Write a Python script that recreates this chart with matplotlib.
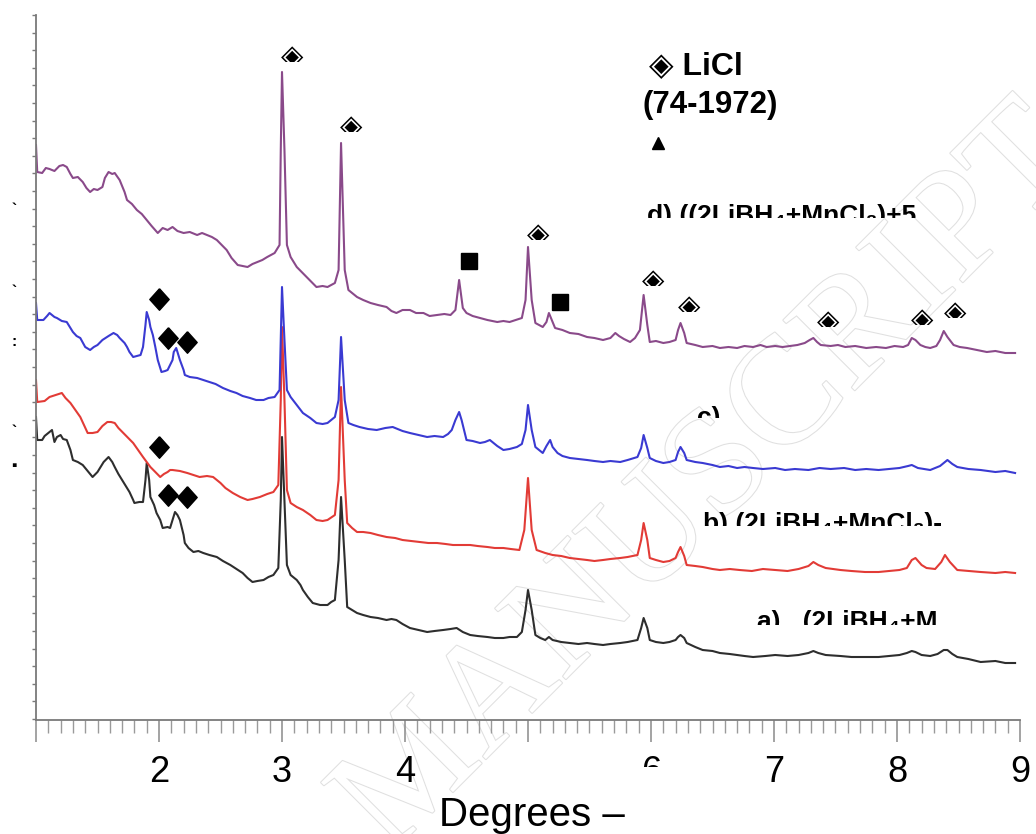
import numpy as np
import matplotlib
matplotlib.use('Agg')
import matplotlib.pyplot as plt
import matplotlib.patheffects as pe
from matplotlib.path import Path
from matplotlib.transforms import Bbox, TransformedBbox

# XRD patterns (2-theta in the odd axis units, intensity in a.u.)
d_x = [1.0, 1.01, 1.05, 1.08, 1.11, 1.15, 1.19, 1.22, 1.25, 1.28, 1.30, 1.34, 1.38, 1.41, 1.44, 1.47, 1.50, 1.54, 1.56, 1.59,
       1.62, 1.64, 1.68, 1.72, 1.74, 1.78, 1.82, 1.86, 1.90, 1.94, 1.99, 2.03, 2.07, 2.11, 2.15, 2.20, 2.25, 2.31, 2.35, 2.39,
       2.43, 2.47, 2.51, 2.55, 2.59, 2.64, 2.68, 2.72, 2.76, 2.80, 2.84, 2.88, 2.91, 2.94, 2.98, 2.99, 3.00, 3.02, 3.04, 3.07,
       3.10, 3.12, 3.16, 3.20, 3.24, 3.28, 3.33, 3.37, 3.40, 3.43, 3.46, 3.48, 3.51, 3.54, 3.57, 3.61, 3.66, 3.72, 3.78, 3.85,
       3.89, 3.93, 3.98, 4.04, 4.09, 4.15, 4.20, 4.26, 4.32, 4.37, 4.41, 4.44, 4.47, 4.50, 4.55, 4.61, 4.67, 4.75, 4.80, 4.85,
       4.90, 4.95, 4.98, 5.00, 5.03, 5.06, 5.09, 5.12, 5.15, 5.17, 5.20, 5.22, 5.28, 5.34, 5.41, 5.48, 5.54, 5.61, 5.67, 5.71,
       5.74, 5.78, 5.83, 5.87, 5.91, 5.94, 5.97, 5.99, 6.04, 6.10, 6.15, 6.20, 6.22, 6.24, 6.27, 6.29, 6.36, 6.42, 6.50, 6.56,
       6.63, 6.70, 6.76, 6.83, 6.89, 6.94, 7.01, 7.07, 7.13, 7.19, 7.25, 7.29, 7.32, 7.35, 7.38, 7.46, 7.52, 7.58, 7.66, 7.75,
       7.83, 7.91, 7.98, 8.05, 8.09, 8.12, 8.15, 8.19, 8.23, 8.27, 8.32, 8.35, 8.38, 8.41, 8.46, 8.51, 8.57, 8.65, 8.73, 8.80,
       8.88, 8.96]
d_y = [575, 548, 547, 552, 551, 549, 554, 555, 553, 546, 542, 543, 538, 532, 528, 531, 530, 533, 542, 548,
       546, 547, 540, 528, 520, 516, 510, 506, 500, 494, 487, 492, 490, 493, 489, 487, 488, 485, 487, 485,
       483, 480, 475, 470, 462, 455, 454, 453, 456, 458, 460, 463, 465, 467, 475, 570, 648, 570, 475, 463,
       457, 453, 448, 443, 438, 433, 434, 433, 435, 437, 450, 577, 450, 430, 427, 423, 420, 417, 415, 413,
       409, 407, 410, 410, 407, 407, 404, 405, 406, 405, 410, 440, 412, 407, 404, 402, 400, 398, 399, 398,
       400, 402, 420, 473, 420, 397, 395, 393, 398, 407, 398, 392, 390, 387, 386, 383, 382, 380, 382, 387,
       384, 381, 378, 382, 390, 425, 395, 378, 379, 377, 378, 380, 390, 397, 387, 377, 375, 373, 374, 372,
       373, 372, 374, 373, 375, 373, 374, 373, 374, 375, 377, 380, 382, 378, 375, 374, 375, 373, 374, 372,
       373, 372, 374, 373, 375, 382, 380, 375, 373, 372, 374, 380, 389, 383, 375, 373, 372, 370, 368, 369,
       367, 367]

c_x = [1.0, 1.01, 1.06, 1.09, 1.11, 1.15, 1.17, 1.21, 1.25, 1.28, 1.30, 1.33, 1.36, 1.40, 1.44, 1.47, 1.50, 1.54, 1.59, 1.63,
       1.66, 1.68, 1.72, 1.74, 1.76, 1.79, 1.82, 1.85, 1.87, 1.89, 1.90, 1.92, 1.93, 1.95, 1.97, 1.99, 2.02, 2.05, 2.07, 2.09,
       2.11, 2.12, 2.14, 2.15, 2.17, 2.20, 2.21, 2.25, 2.31, 2.36, 2.41, 2.46, 2.52, 2.58, 2.63, 2.68, 2.74, 2.79, 2.85, 2.89,
       2.94, 2.98, 2.99, 3.00, 3.02, 3.04, 3.07, 3.12, 3.17, 3.23, 3.28, 3.33, 3.37, 3.40, 3.43, 3.46, 3.48, 3.51, 3.54, 3.58,
       3.63, 3.70, 3.77, 3.84, 3.90, 3.98, 4.04, 4.11, 4.18, 4.24, 4.31, 4.35, 4.38, 4.41, 4.44, 4.46, 4.50, 4.55, 4.61, 4.65,
       4.69, 4.75, 4.80, 4.85, 4.91, 4.95, 4.98, 5.00, 5.03, 5.06, 5.09, 5.12, 5.15, 5.18, 5.20, 5.24, 5.28, 5.34, 5.41, 5.48,
       5.54, 5.61, 5.67, 5.75, 5.81, 5.89, 5.92, 5.94, 5.97, 5.99, 6.04, 6.10, 6.15, 6.20, 6.22, 6.24, 6.27, 6.29, 6.36, 6.42,
       6.50, 6.56, 6.63, 6.70, 6.76, 6.83, 6.91, 7.01, 7.09, 7.17, 7.28, 7.37, 7.46, 7.57, 7.66, 7.75, 7.85, 7.94, 8.02, 8.09,
       8.12, 8.17, 8.27, 8.35, 8.41, 8.45, 8.49, 8.58, 8.68, 8.80, 8.88, 8.96]
c_y = [417, 400, 400, 404, 407, 403, 402, 399, 398, 392, 388, 384, 382, 373, 370, 373, 375, 380, 384, 387,
       385, 382, 377, 373, 368, 363, 364, 365, 373, 395, 408, 400, 393, 385, 373, 360, 348, 349, 350, 355,
       360, 368, 372, 368, 360, 350, 345, 343, 342, 340, 338, 336, 332, 329, 327, 324, 322, 320, 320, 322,
       323, 330, 380, 433, 380, 330, 323, 315, 307, 302, 297, 296, 297, 300, 303, 320, 383, 320, 297, 295,
       293, 291, 290, 292, 293, 289, 287, 285, 283, 284, 283, 286, 290, 300, 308, 300, 280, 279, 277, 278,
       280, 274, 270, 271, 273, 276, 290, 315, 290, 273, 270, 267, 274, 280, 273, 267, 264, 262, 261, 260,
       259, 258, 259, 258, 260, 263, 272, 285, 272, 262, 259, 257, 258, 260, 268, 273, 267, 260, 258, 257,
       255, 253, 254, 252, 253, 252, 251, 252, 250, 251, 250, 252, 251, 252, 250, 251, 250, 251, 252, 254,
       255, 252, 250, 254, 260, 256, 253, 251, 250, 248, 249, 247]

b_x = [1.0, 1.01, 1.07, 1.11, 1.16, 1.21, 1.24, 1.28, 1.32, 1.36, 1.39, 1.42, 1.46, 1.50, 1.54, 1.58, 1.61, 1.64, 1.67, 1.71,
       1.75, 1.79, 1.83, 1.87, 1.90, 1.93, 1.97, 2.01, 2.04, 2.07, 2.09, 2.11, 2.17, 2.23, 2.28, 2.33, 2.39, 2.44, 2.47, 2.50,
       2.54, 2.60, 2.66, 2.72, 2.76, 2.82, 2.88, 2.93, 2.97, 2.99, 3.00, 3.02, 3.04, 3.07, 3.12, 3.17, 3.23, 3.28, 3.33, 3.37,
       3.43, 3.46, 3.48, 3.51, 3.53, 3.57, 3.61, 3.66, 3.72, 3.78, 3.85, 3.92, 3.98, 4.05, 4.12, 4.19, 4.26, 4.33, 4.39, 4.46,
       4.53, 4.59, 4.67, 4.73, 4.80, 4.86, 4.93, 4.97, 5.00, 5.03, 5.07, 5.14, 5.20, 5.27, 5.34, 5.41, 5.48, 5.54, 5.61, 5.67,
       5.75, 5.81, 5.89, 5.92, 5.94, 5.97, 5.99, 6.04, 6.10, 6.15, 6.20, 6.22, 6.24, 6.27, 6.29, 6.36, 6.42, 6.50, 6.56, 6.64,
       6.72, 6.82, 6.91, 7.01, 7.11, 7.20, 7.28, 7.32, 7.36, 7.42, 7.54, 7.63, 7.74, 7.85, 7.94, 8.02, 8.08, 8.12, 8.15, 8.20,
       8.24, 8.31, 8.36, 8.39, 8.43, 8.49, 8.58, 8.68, 8.80, 8.88, 8.96]
b_y = [340, 318, 319, 323, 325, 327, 322, 317, 310, 303, 295, 287, 287, 288, 294, 298, 298, 297, 292, 287,
       282, 277, 270, 263, 258, 253, 248, 243, 246, 248, 250, 250, 249, 247, 245, 243, 244, 243, 240, 237,
       232, 227, 223, 220, 221, 223, 226, 228, 235, 320, 393, 320, 230, 217, 213, 210, 205, 200, 199, 200,
       205, 240, 333, 240, 197, 192, 188, 188, 187, 185, 183, 182, 180, 179, 178, 177, 177, 176, 175, 175,
       175, 174, 173, 172, 172, 171, 170, 190, 242, 190, 170, 167, 165, 164, 162, 161, 160, 159, 160, 161,
       162, 163, 165, 180, 197, 180, 162, 160, 158, 159, 162, 168, 173, 164, 155, 154, 153, 151, 150, 151,
       150, 149, 151, 150, 149, 151, 154, 158, 155, 152, 150, 149, 148, 148, 149, 150, 152, 160, 162, 155,
       152, 151, 158, 165, 158, 150, 149, 148, 147, 148, 147]

a_x = [1.0, 1.01, 1.05, 1.07, 1.10, 1.13, 1.15, 1.17, 1.20, 1.22, 1.25, 1.28, 1.30, 1.34, 1.38, 1.42, 1.46, 1.50, 1.52, 1.55,
       1.59, 1.62, 1.64, 1.67, 1.70, 1.73, 1.76, 1.79, 1.80, 1.84, 1.87, 1.89, 1.90, 1.92, 1.93, 1.96, 1.98, 2.01, 2.03, 2.07,
       2.09, 2.11, 2.13, 2.15, 2.17, 2.20, 2.21, 2.24, 2.28, 2.32, 2.36, 2.41, 2.47, 2.52, 2.58, 2.63, 2.68, 2.72, 2.76, 2.80,
       2.85, 2.89, 2.93, 2.97, 2.99, 3.00, 3.02, 3.04, 3.07, 3.12, 3.15, 3.17, 3.21, 3.25, 3.31, 3.37, 3.40, 3.43, 3.46, 3.48,
       3.51, 3.53, 3.57, 3.61, 3.66, 3.72, 3.78, 3.85, 3.89, 3.93, 3.98, 4.04, 4.11, 4.18, 4.24, 4.31, 4.37, 4.42, 4.47, 4.53,
       4.59, 4.67, 4.73, 4.80, 4.85, 4.91, 4.95, 4.98, 5.00, 5.03, 5.06, 5.10, 5.14, 5.17, 5.20, 5.27, 5.34, 5.41, 5.48, 5.54,
       5.61, 5.67, 5.75, 5.81, 5.89, 5.92, 5.94, 5.97, 5.99, 6.04, 6.10, 6.15, 6.20, 6.22, 6.24, 6.27, 6.29, 6.36, 6.42, 6.50,
       6.56, 6.64, 6.70, 6.76, 6.83, 6.93, 7.01, 7.11, 7.20, 7.28, 7.32, 7.36, 7.42, 7.54, 7.63, 7.74, 7.85, 7.94, 8.02, 8.08,
       8.12, 8.15, 8.20, 8.27, 8.33, 8.38, 8.41, 8.45, 8.49, 8.58, 8.68, 8.80, 8.88, 8.96]
a_y = [303, 280, 280, 284, 287, 290, 278, 283, 285, 281, 280, 270, 260, 258, 255, 249, 243, 248, 252, 258,
       263, 258, 253, 246, 240, 234, 228, 220, 217, 218, 218, 240, 257, 240, 223, 215, 207, 200, 192, 193,
       192, 200, 208, 205, 200, 185, 177, 172, 168, 169, 167, 165, 163, 159, 155, 151, 147, 142, 138, 139,
       140, 143, 145, 152, 220, 283, 220, 155, 145, 140, 135, 130, 123, 117, 115, 115, 118, 120, 160, 223,
       160, 113, 110, 107, 105, 103, 102, 100, 101, 100, 96, 92, 90, 88, 89, 90, 91, 92, 88, 85,
       84, 83, 82, 82, 83, 83, 88, 110, 130, 110, 85, 82, 80, 83, 80, 78, 77, 76, 77, 76,
       75, 76, 77, 78, 80, 92, 102, 92, 80, 78, 77, 78, 80, 83, 85, 82, 77, 73, 70, 69,
       67, 66, 65, 64, 63, 64, 65, 64, 65, 67, 69, 67, 65, 64, 63, 63, 63, 64, 65, 67,
       69, 68, 65, 64, 66, 70, 70, 66, 63, 61, 58, 59, 57, 57]

# phase markers
licl_x = [3.08, 3.56, 5.08, 6.02, 6.31, 7.44, 8.20, 8.47]
licl_y = [663, 593, 485, 439, 413, 398, 400, 407]
square_x = [4.52, 5.26]
square_y = [459, 418]
diam_x = [2.0, 2.07, 2.23, 2.0, 2.07, 2.23]
diam_y = [421, 382, 378, 273, 225, 223]

tick_pos = [1, 2, 3, 4, 5, 6, 7, 8, 9]
tick_txt = ['', '2', '3', '4', '', '6', '7', '8', '9']


def clipText(ax, x, y, s, cut, **kw):
    # the scan cut the lower part of these labels
    t = ax.text(x, y, s, **kw)
    t.set_clip_box(TransformedBbox(Bbox.from_extents(0, cut, 20, 2000), ax.transData))
    t.set_clip_on(True)
    return t


plt.rcParams['font.family'] = ['Liberation Sans', 'DejaVu Sans']
W, H = 1036, 834
fig = plt.figure(figsize=(W / 100, H / 100), dpi=100)
ax = fig.add_axes([36 / W, (H - 720) / H, 984 / W, 705 / H])
ax.set_facecolor('none')

# watermark
fig.text(1085 / W, 1 - 160 / H, 'ACCEPTED MANUSCRIPT', rotation=45, rotation_mode='anchor',
         ha='right', va='baseline', fontsize=110, family='Liberation Serif', color='white', zorder=-5,
         path_effects=[pe.withStroke(linewidth=1.5, foreground='#e0e0e0')])

ax.plot(a_x, a_y, color='#2e2e2e', lw=1.5)
ax.plot(b_x, b_y, color='#e23b36', lw=1.5)
ax.plot(c_x, c_y, color='#3a3ad2', lw=1.5)
ax.plot(d_x, d_y, color='#8a4a8a', lw=1.5)

ax.plot(square_x, square_y, 's', color='black', ms=11.5, ls='none')
diamond = Path([(0, 1), (0.9, 0), (0, -1), (-0.9, 0), (0, 1)])
ax.plot(diam_x, diam_y, marker=diamond, color='black', ms=15.5, ls='none')
for x, y in zip(licl_x, licl_y):
    clipText(ax, x, y, '\u25c8', y - 5, ha='center', va='center', fontsize=21, family='DejaVu Sans',
             fontweight='bold')

bold = dict(fontweight='bold', color='black')
ax.text(5.98, 654, '\u25c8 LiCl', va='center', fontsize=23, **bold)
ax.text(5.93, 615, '(74-1972)', va='center', fontsize=22.5, **bold)
ax.plot([6.06], [577], '^', color='black', ms=8)
clipText(ax, 5.97, 497, 'd) ((2LiBH\u2084+MnCl\u2082)+5', 502, va='baseline', fontsize=19, **bold)
clipText(ax, 6.37, 295, 'c)', 302, va='baseline', fontsize=19, **bold)
clipText(ax, 6.42, 189, 'b) (2LiBH\u2084+MnCl\u2082)-', 194, va='baseline', fontsize=19, **bold)
clipText(ax, 6.86, 91, 'a)   (2LiBH\u2084+M', 95, va='baseline', fontsize=19, **bold)

ax.set_xlim(1, 9)
ax.set_ylim(0, 705)
for s in ['top', 'right']:
    ax.spines[s].set_visible(False)
for s in ['left', 'bottom']:
    ax.spines[s].set_color('#7a7a7a')
    ax.spines[s].set_linewidth(1.3)

ax.set_xticks(tick_pos)
ax.set_xticklabels(tick_txt, fontsize=26)
ax.set_xticks(np.arange(1, 9.001, 0.1), minor=True)
ax.tick_params(axis='x', which='major', length=16, width=1.1, color='#8a8a8a', pad=9)
ax.tick_params(axis='x', which='minor', length=9, width=1.0, color='#9a9a9a')
ax.set_yticks(np.arange(705, 0, -17.6))
ax.set_yticklabels([])
ax.tick_params(axis='y', length=3, width=1.0, color='#7a7a7a')

# the "6" is half cut off in the original
lab6 = ax.get_xticklabels()[5]
lab6.set_clip_box(TransformedBbox(Bbox.from_extents(0, (H - 767) / H, 1, 1), fig.transFigure))
lab6.set_clip_on(True)

fig.text(532 / W, 1 - 826 / H, 'Degrees \u2013', ha='center', va='baseline', fontsize=29)

# stray bits of cut-off y labels
for py, s in [(210, '`'), (292, '`'), (342, ':'), (432, '`'), (466, '\u25aa')]:
    fig.text(14 / W, 1 - py / H, s, ha='center', va='center', fontsize=11, fontweight='bold')

fig.savefig('out.png', dpi=100)
